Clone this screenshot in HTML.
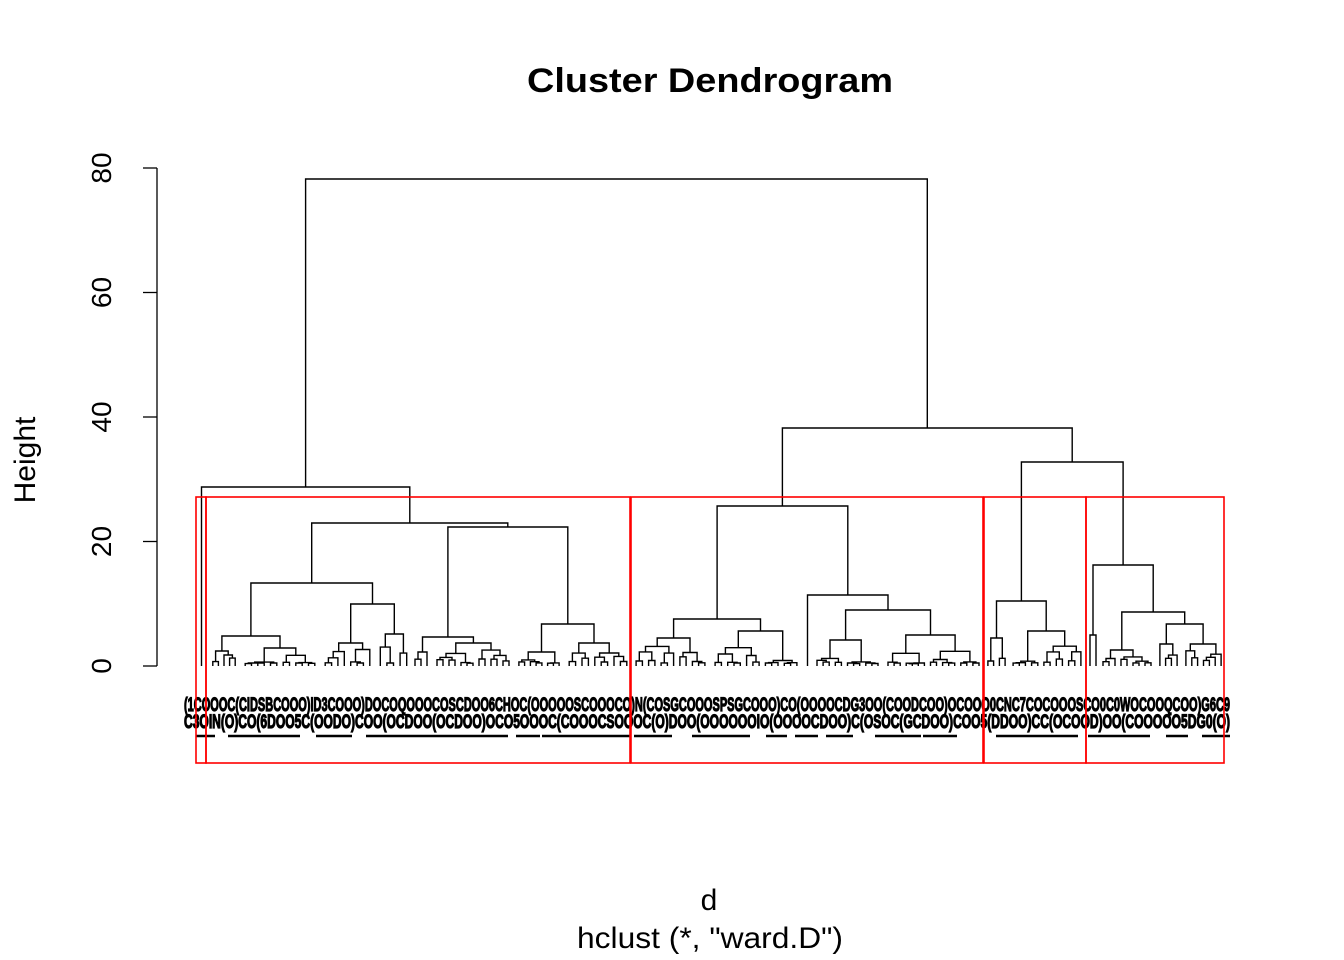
<!DOCTYPE html>
<html><head><meta charset="utf-8"><style>
html,body{margin:0;padding:0;background:#fff;width:1344px;height:960px;overflow:hidden}
svg{display:block}
text{font-family:"Liberation Sans",Arial,sans-serif;fill:#000}
</style></head><body>
<svg id="s" width="1344" height="960" viewBox="0 0 1344 960" xmlns="http://www.w3.org/2000/svg">
<text x="527" y="92" font-size="34" font-weight="bold" textLength="366" lengthAdjust="spacingAndGlyphs">Cluster Dendrogram</text>
<g stroke="#000" stroke-width="1.3" fill="none">
<line x1="157" y1="168" x2="157" y2="666"/>
<line x1="143" y1="666" x2="157" y2="666"/>
<line x1="143" y1="541.5" x2="157" y2="541.5"/>
<line x1="143" y1="417" x2="157" y2="417"/>
<line x1="143" y1="292.5" x2="157" y2="292.5"/>
<line x1="143" y1="168" x2="157" y2="168"/>
</g>
<g font-size="28" text-anchor="middle">
<text transform="translate(111,666) rotate(-90)">0</text>
<text transform="translate(111,541.5) rotate(-90)">20</text>
<text transform="translate(111,417) rotate(-90)">40</text>
<text transform="translate(111,292.5) rotate(-90)">60</text>
<text transform="translate(111,168) rotate(-90)">80</text>
</g>
<g font-size="30">
<text transform="translate(35,460) rotate(-90)" text-anchor="middle">Height</text>
<text x="709" y="910" text-anchor="middle">d</text>
<text x="577" y="948" textLength="266" lengthAdjust="spacingAndGlyphs">hclust (*, "ward.D")</text>
</g>
<g id="tree" stroke="#000" stroke-width="1.4" fill="none"></g>
<g font-size="19" font-weight="bold" stroke="#000" stroke-width="1.2">
<text x="184" y="711" textLength="1046" lengthAdjust="spacingAndGlyphs">(1COOOC(CIDSBCOOO)ID3COOO)DOCOQOOOCOSCDOO6CHOC(OOOOOSCOOOCO)N(COSGCOOOSPSGCOOO)CO(OOOOCDG3OO(COODCOO)OCOOO0CNC7COCOOOSCO0C0WOCOOQCOO)G6C9</text>
<text x="184" y="728" textLength="1046" lengthAdjust="spacingAndGlyphs">C3OIN(O)CO(6DOO5C(OODO)COO(OCDOO(OCDOO)OCO5OOOC(COOOCSOOOC(O)DOO(OOOOOOIO(OOOOCDOO)C(OSOC(GCDOO)COO5(DDOO)CC(OCOOD)OO(COOOOO5DG0(O)</text>
</g>
<g stroke="#000" stroke-width="2.5">
<line x1="196" y1="736" x2="215" y2="736"/><line x1="228" y1="736" x2="300" y2="736"/><line x1="316" y1="736" x2="352" y2="736"/>
<line x1="366" y1="736" x2="508" y2="736"/><line x1="516" y1="736" x2="540" y2="736"/><line x1="542" y1="736" x2="630" y2="736"/>
<line x1="634" y1="736" x2="672" y2="736"/><line x1="692" y1="736" x2="750" y2="736"/><line x1="766" y1="736" x2="787" y2="736"/>
<line x1="795" y1="736" x2="818" y2="736"/><line x1="826" y1="736" x2="853" y2="736"/><line x1="875" y1="736" x2="921" y2="736"/>
<line x1="923" y1="736" x2="957" y2="736"/><line x1="996" y1="736" x2="1078" y2="736"/><line x1="1088" y1="736" x2="1150" y2="736"/>
<line x1="1166" y1="736" x2="1188" y2="736"/><line x1="1202" y1="736" x2="1230" y2="736"/>
</g>
<g stroke="#f00" stroke-width="1.6" fill="none">
<rect x="196" y="497" width="10" height="266"/>
<rect x="206" y="497" width="424" height="266"/>
<rect x="631" y="497" width="352" height="266"/>
<rect x="984" y="497" width="102" height="266"/>
<rect x="1086" y="497" width="138" height="266"/>
</g>
</svg>
<script>
(function(){
var seed=12345;function rnd(){seed=(seed*16807)%2147483647;return (seed-1)/2147483646;}
var out=[];var B=666;
function gen(xl,xr,y){
  var n=Math.max(1,Math.round((xr-xl)/6.1));
  return genN(xl,xr,n,y);
}
function genN(xl,xr,n,y){
  if(n<=1){return {x:(xl+xr)/2,y:B};}
  var k=Math.max(1,Math.min(n-1,Math.round(n*(0.3+0.4*rnd()))));
  var xm=xl+(xr-xl)*k/n;
  var a=genN(xl,xm,k,sub(y,k)), b=genN(xm,xr,n-k,sub(y,n-k));
  draw(a,b,y);
  return {x:(a.x+b.x)/2,y:y};
}
function sub(y,n){if(n<=1)return B;var lo=y+(B-y)*0.25,hi=B-3;return lo+(hi-lo)*rnd();}
function draw(a,b,y){
  out.push('M'+a.x.toFixed(1)+' '+a.y+'V'+y.toFixed(1)+'H'+b.x.toFixed(1)+'V'+b.y);
}
function N(y,c1,c2){return {t:'n',y:y,c:[c1,c2]};}
function K(xl,xr,y){return {t:'b',xl:xl,xr:xr,y:y};}
function build(nd){
  if(nd.t=='b')return gen(nd.xl,nd.xr,nd.y);
  var a=build(nd.c[0]),b=build(nd.c[1]);draw(a,b,nd.y);return {x:(a.x+b.x)/2,y:nd.y};
}
var tree=N(179,
  N(487, K(197,206,657),
    N(523,
      N(583,
        N(636,K(210,238,651),K(242,318,648)),
        N(604,K(322,373,643),K(377,410,634))),
      N(527,
        N(637,K(412,430,652),K(434,512,643)),
        N(624,K(516,562,652),K(566,630,643))))),
  N(428,
    N(506,
      N(619,K(633,708,638),K(712,800,631)),
      N(595,K(803,812,651),
        N(610,K(814,881,640),K(885,982,635)))),
    N(462,
      N(601,K(985,1008,638),K(1010,1084,631)),
      N(565,K(1087,1099,635),
        N(612,K(1100,1154,650),
          N(624,K(1157,1180,644),K(1183,1224,644)))))));
build(tree);
var p=document.createElementNS('http://www.w3.org/2000/svg','path');
p.setAttribute('d',out.join(''));
document.getElementById('tree').appendChild(p);
})();
</script>
</body></html>
